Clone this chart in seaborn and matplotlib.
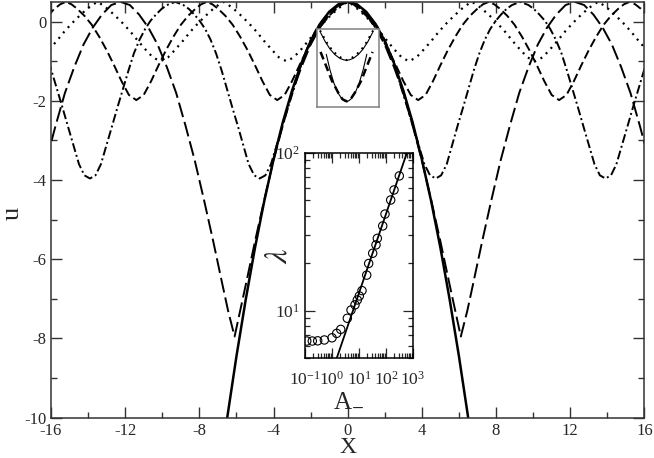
import matplotlib
matplotlib.use("Agg")
import matplotlib.pyplot as plt
from matplotlib.ticker import MultipleLocator, NullFormatter, FixedLocator
import seaborn as sns

# ---- main panel: profiles u(X) ----
x_par = [-6.6, -6.0, -5.5, -5.0, -4.5, -4.0, -3.5, -3.0, -2.5, -2.0, -1.5, -1.0, -0.5, 0.0,
         0.5, 1.0, 1.5, 2.0, 2.5, 3.0, 3.5, 4.0, 4.5, 5.0, 5.5, 6.0, 6.6]
u_par = [-10.32, -8.45, -7.02, -5.71, -4.53, -3.48, -2.54, -1.74, -1.05, -0.49, -0.06, 0.25, 0.44, 0.5,
         0.44, 0.25, -0.06, -0.49, -1.05, -1.74, -2.54, -3.48, -4.53, -5.71, -7.02, -8.45, -10.32]

# dotted, wells down to -1
x_dot = [-16.09, -15.68, -15.28, -14.87, -14.46, -14.06, -13.75, -13.5, -13.25, -12.94, -12.54,
         -12.13, -11.72, -11.32, -10.91, -10.51, -10.1, -9.69, -9.29, -8.88, -8.48, -8.07, -7.66,
         -7.26, -6.95, -6.7, -6.45, -6.14, -5.74, -5.33, -4.92, -4.52, -4.11, -3.71, -3.3, -2.91,
         -2.51, -2.12, -1.72, -1.33, -0.94, -0.54, -0.25, 0.0, 0.25, 0.54, 0.94, 1.33, 1.72, 2.12,
         2.51, 2.91, 3.3, 3.71, 4.11, 4.52, 4.92, 5.33, 5.74, 6.14, 6.45, 6.7, 6.95, 7.26, 7.66,
         8.07, 8.48, 8.88, 9.29, 9.69, 10.1, 10.51, 10.91, 11.32, 11.72, 12.13, 12.54, 12.94,
         13.25, 13.5, 13.75, 14.06, 14.46, 14.87, 15.28, 15.68, 16.09]
u_dot = [-0.7, -0.48, -0.25, -0.04, 0.15, 0.32, 0.43, 0.5, 0.43, 0.32, 0.15,
         -0.04, -0.25, -0.48, -0.7, -0.9, -1.0, -0.9, -0.7, -0.48, -0.25, -0.04, 0.15,
         0.32, 0.43, 0.5, 0.43, 0.32, 0.15, -0.04, -0.25, -0.48, -0.7, -0.9, -1.0, -0.9,
         -0.7, -0.48, -0.25, -0.04, 0.15, 0.32, 0.43, 0.5, 0.43, 0.32, 0.15, -0.04, -0.25, -0.48,
         -0.7, -0.9, -1.0, -0.9, -0.7, -0.48, -0.25, -0.04, 0.15, 0.32, 0.43, 0.5, 0.43, 0.32, 0.15,
         -0.04, -0.25, -0.48, -0.7, -0.9, -1.0, -0.9, -0.7, -0.48, -0.25, -0.04, 0.15, 0.32,
         0.43, 0.5, 0.43, 0.32, 0.15, -0.04, -0.25, -0.48, -0.7]

# short dashes, wells down to -2
x_dsh = [-16.2, -15.8, -15.5, -15.2, -14.9, -14.6, -14.2, -13.8, -13.4, -13.0, -12.6, -12.2, -11.8,
         -11.4, -11.0, -10.6, -10.2, -9.8, -9.4, -9.0, -8.6, -8.2, -7.9, -7.6, -7.3, -7.0, -6.6,
         -6.2, -5.8, -5.4, -5.0, -4.6, -4.2, -3.8, -3.4, -3.0, -2.6, -2.2, -1.8, -1.4, -1.0, -0.6,
         -0.3, 0.0, 0.3, 0.6, 1.0, 1.4, 1.8, 2.2, 2.6, 3.0, 3.4, 3.8, 4.2, 4.6, 5.0, 5.4, 5.8, 6.2,
         6.6, 7.0, 7.3, 7.6, 7.9, 8.2, 8.6, 9.0, 9.4, 9.8, 10.2, 10.6, 11.0, 11.4, 11.8, 12.2, 12.6,
         13.0, 13.4, 13.8, 14.2, 14.6, 14.9, 15.2, 15.5, 15.8, 16.2]
u_dsh = [0.15, 0.33, 0.44, 0.5, 0.44, 0.33, 0.15, -0.08, -0.38, -0.72, -1.1, -1.5, -1.85,
         -1.98, -1.85, -1.5, -1.1, -0.72, -0.38, -0.08, 0.15, 0.33, 0.44, 0.5, 0.44, 0.33, 0.15,
         -0.08, -0.38, -0.72, -1.1, -1.5, -1.85, -1.98, -1.85, -1.5, -1.1, -0.72, -0.38, -0.08, 0.15, 0.33,
         0.44, 0.5, 0.44, 0.33, 0.15, -0.08, -0.38, -0.72, -1.1, -1.5, -1.85, -1.98, -1.85, -1.5, -1.1, -0.72, -0.38, -0.08,
         0.15, 0.33, 0.44, 0.5, 0.44, 0.33, 0.15, -0.08, -0.38, -0.72, -1.1, -1.5, -1.85, -1.98, -1.85, -1.5, -1.1,
         -0.72, -0.38, -0.08, 0.15, 0.33, 0.44, 0.5, 0.44, 0.33, 0.15]

# dash-dot, wells down to -4
x_dd = [-16.13, -15.98, -15.68, -15.38, -15.09, -14.79, -14.49, -14.2, -13.9, -13.6, -13.31, -13.01,
        -12.71, -12.42, -12.12, -11.82, -11.53, -11.23, -10.93, -10.64, -10.34, -10.04, -9.75, -9.3,
        -8.86, -8.56, -8.27, -7.98, -7.68, -7.39, -7.10, -6.80, -6.51, -6.22, -5.92, -5.63, -5.34,
        -5.04, -4.75, -4.44, -4.14, -3.83, -3.52, -3.22, -2.91, -2.61, -2.30, -1.99, -1.69, -1.38,
        -1.07, -0.77, -0.46, 0.0, 0.46, 0.77, 1.07, 1.38, 1.69, 1.99, 2.30, 2.61, 2.91, 3.22, 3.52,
        3.83, 4.14, 4.44, 4.75, 5.04, 5.34, 5.63, 5.92, 6.22, 6.51, 6.80, 7.10, 7.39, 7.68, 7.98,
        8.27, 8.56, 8.86, 9.3, 9.75, 10.04, 10.34, 10.64, 10.93, 11.23, 11.53, 11.82, 12.12, 12.42,
        12.71, 13.01, 13.31, 13.6, 13.9, 14.2, 14.49, 14.79, 15.09, 15.38, 15.68, 15.98, 16.13]
u_dd = [-1.0, -1.23, -1.7, -2.17, -2.64, -3.12, -3.6, -3.88, -3.96, -3.88, -3.6, -3.12,
        -2.64, -2.17, -1.7, -1.23, -0.8, -0.46, -0.19, 0.02, 0.18, 0.32, 0.42, 0.5,
        0.42, 0.32, 0.18, 0.02, -0.19, -0.46, -0.8, -1.23, -1.7, -2.17, -2.64, -3.12, -3.6,
        -3.88, -3.96, -3.88, -3.6, -3.12, -2.64, -2.17, -1.7, -1.23, -0.8, -0.46, -0.19, 0.02,
        0.18, 0.32, 0.42, 0.5, 0.42, 0.32, 0.18, 0.02, -0.19, -0.46, -0.8, -1.23, -1.7, -2.17, -2.64,
        -3.12, -3.6, -3.88, -3.96, -3.88, -3.6, -3.12, -2.64, -2.17, -1.7, -1.23, -0.8, -0.46, -0.19, 0.02,
        0.18, 0.32, 0.42, 0.5, 0.42, 0.32, 0.18, 0.02, -0.19, -0.46, -0.8, -1.23, -1.7, -2.17,
        -2.64, -3.12, -3.6, -3.88, -3.96, -3.88, -3.6, -3.12, -2.64, -2.17, -1.7, -1.23, -1.0]

# long dashes, wells down to -8
x_ld = [-16.25, -15.75, -15.25, -14.75, -14.25, -13.75, -13.25, -12.75, -12.25, -11.75, -11.25,
        -10.75, -10.25, -9.75, -9.25, -8.75, -8.25, -7.75, -7.25, -6.75, -6.45, -6.1, -5.8, -5.5,
        -5.0, -4.5, -4.0, -3.5, -3.0, -2.5, -2.0, -1.5, -1.0, -0.5, 0.0, 0.5, 1.0, 1.5, 2.0, 2.5,
        3.0, 3.5, 4.0, 4.5, 5.0, 5.5, 5.8, 6.1, 6.45, 6.75, 7.25, 7.75, 8.25, 8.75, 9.25, 9.75,
        10.25, 10.75, 11.25, 11.75, 12.25, 12.75, 13.25, 13.75, 14.25, 14.75, 15.25, 15.75, 16.25]
u_ld = [-3.5, -2.62, -1.8, -1.15, -0.58, -0.15, 0.18, 0.42, 0.5, 0.42, 0.18,
        -0.15, -0.58, -1.15, -1.8, -2.62, -3.5, -4.5, -5.55, -6.65, -7.3, -7.95, -7.3, -6.65,
        -5.55, -4.5, -3.5, -2.62, -1.8, -1.15, -0.58, -0.15, 0.18, 0.42, 0.5, 0.42, 0.18, -0.15, -0.58, -1.15,
        -1.8, -2.62, -3.5, -4.5, -5.55, -6.65, -7.3, -7.95, -7.3, -6.65, -5.55, -4.5, -3.5, -2.62, -1.8, -1.15,
        -0.58, -0.15, 0.18, 0.42, 0.5, 0.42, 0.18, -0.15, -0.58, -1.15, -1.8, -2.62, -3.5]

# ---- small boxed sketch (well bottoms vs. parabolas), box-local units ----
xb_par1 = [-28.4, -23.7, -18.7, -13.7, -8.7, -4.7, -1.7, 1.3, 5.3, 10.3, 15.3, 20.3, 25.0]
yb_par1 = [-3.6, -12.5, -20.1, -25.7, -29.4, -30.95, -31.3, -30.95, -29.4, -25.7, -20.1, -12.5, -3.6]
xb_dot = [-29.0, -25.5, -21.5, -17.0, -12.0, -6.7, -1.7, 3.3, 8.6, 13.6, 18.1, 22.1, 25.6]
yb_dot = [-1.5, -7.5, -14.5, -20.5, -25.6, -29.3, -31.3, -29.3, -25.6, -20.5, -14.5, -7.5, -1.5]
xb_par2 = [-22.5, -18.7, -14.7, -10.7, -6.7, -3.7, -1.7, 0.3, 3.3, 7.3, 11.3, 15.3, 19.1]
yb_par2 = [-25.4, -41.1, -54.2, -63.8, -69.9, -72.2, -72.6, -72.2, -69.9, -63.8, -54.2, -41.1, -25.4]
xb_dsh = [-28.4, -21.7, -16.7, -10.0, -5.7, -1.7, 2.3, 6.6, 13.3, 18.3, 25.0]
yb_dsh = [-23.0, -39.5, -52.0, -64.3, -70.6, -72.6, -70.6, -64.3, -52.0, -39.5, -23.0]

# ---- log-log inset: lambda vs A_- ----
A_pts = [0.116, 0.186, 0.295, 0.52, 1.0, 1.49, 2.1, 3.69, 5.05, 7.1, 8.65, 10.3, 12.9,
         19.3, 22.8, 32.1, 42.6, 47.7, 75.5, 91.8, 149, 198, 311]
lam_pts = [6.43, 6.43, 6.45, 6.53, 6.74, 7.19, 7.62, 8.96, 10.1, 10.9, 11.7, 12.4, 13.4,
           16.8, 19.9, 23.1, 26.1, 28.7, 34.4, 40.9, 50.2, 58.1, 71.3]
A_fit = [1.2, 1000]
lam_fit = [4.49, 129.5]

sns.set_theme(style="ticks")
plt.rcParams["font.family"] = ["Liberation Serif", "DejaVu Serif"]
plt.rcParams["mathtext.fontset"] = "stix"
plt.rcParams["axes.unicode_minus"] = False

fig = plt.figure(figsize=(6.54, 4.58), dpi=100)
ax = fig.add_axes([0.078, 0.088, 0.9073, 0.9079])

lw = 1.4
sns.lineplot(x=x_dot, y=u_dot, ax=ax, color="black", lw=1.6, sort=False, estimator=None,
             linestyle=(0, (0.9, 2.3)))
sns.lineplot(x=x_dsh, y=u_dsh, ax=ax, color="black", lw=lw, sort=False, estimator=None,
             linestyle=(0, (4.6, 2.1)))
sns.lineplot(x=x_dd, y=u_dd, ax=ax, color="black", lw=lw, sort=False, estimator=None,
             linestyle=(0, (4.6, 1.6, 1.0, 1.6)))
sns.lineplot(x=x_ld, y=u_ld, ax=ax, color="black", lw=lw, sort=False, estimator=None,
             linestyle=(0, (7.7, 2.6)))
sns.lineplot(x=x_par, y=u_par, ax=ax, color="black", lw=1.8, sort=False, estimator=None)

ax.set_xlim(-16, 16)
ax.set_ylim(-10, 0.5)
ax.xaxis.set_major_locator(MultipleLocator(4))
ax.xaxis.set_minor_locator(MultipleLocator(2))
ax.yaxis.set_major_locator(MultipleLocator(2))
ax.yaxis.set_minor_locator(MultipleLocator(1))
ax.tick_params(which="both", direction="in", top=True, right=True, labelsize=12, width=1,
               color="#333333")
ax.tick_params(which="major", length=8)
ax.tick_params(which="minor", length=4)
for s in ax.spines.values():
    s.set_linewidth(1.1)
    s.set_color("#333333")
ax.set_xlabel("X", fontsize=17)
ax.xaxis.set_label_coords(0.5, -0.047)
ax.set_ylabel("")
fig.text(13 / 654, 1 - 213 / 458, "u", rotation=90, ha="center", va="center", fontsize=19)

# boxed sketch near the top
axb = fig.add_axes([0.4852, 0.7657, 0.0943, 0.171])
sns.lineplot(x=xb_par1, y=yb_par1, ax=axb, color="black", lw=0.8, sort=False, estimator=None)
sns.lineplot(x=xb_dot, y=yb_dot, ax=axb, color="black", lw=1.5, sort=False, estimator=None,
             linestyle=(0, (0.9, 2.3)))
sns.lineplot(x=xb_par2, y=yb_par2, ax=axb, color="black", lw=0.8, sort=False, estimator=None)
sns.lineplot(x=xb_dsh, y=yb_dsh, ax=axb, color="black", lw=1.8, sort=False, estimator=None,
             linestyle=(0, (3.2, 1.8)))
axb.set_xlim(-31.7, 31.6)
axb.set_ylim(-78.6, 0)
axb.set_xticks([])
axb.set_yticks([])
axb.set_xlabel("")
axb.set_ylabel("")
for s in axb.spines.values():
    s.set_linewidth(1.1)
    s.set_color("#808080")

# log-log inset
axi = fig.add_axes([0.4664, 0.2177, 0.1651, 0.4489])
axi.set_xscale("log")
axi.set_yscale("log")
sns.lineplot(x=A_fit, y=lam_fit, ax=axi, color="black", lw=1.3, sort=False, estimator=None)
sns.scatterplot(x=A_pts, y=lam_pts, ax=axi, marker="o", s=36, facecolor="none",
                edgecolor="black", linewidth=0.8)
axi.set_xlim(0.1, 1000)
axi.set_ylim(5, 100)
axi.xaxis.set_major_locator(FixedLocator([0.1, 1, 10, 100, 1000]))
axi.yaxis.set_major_locator(FixedLocator([10, 100]))
axi.xaxis.set_minor_formatter(NullFormatter())
axi.yaxis.set_minor_formatter(NullFormatter())
axi.tick_params(which="both", direction="in", top=True, right=True, labelsize=12.5, width=0.9)
axi.tick_params(which="major", length=7)
axi.tick_params(which="minor", length=3.5)
axi.tick_params(axis="x", which="major", pad=9)
for s in axi.spines.values():
    s.set_linewidth(1.1)
    s.set_color("black")
axi.set_xlabel(r"A$_{-}$", fontsize=18)
axi.set_ylabel(r"$\lambda$", fontsize=23)
axi.xaxis.set_label_coords(0.4, -0.15)
axi.yaxis.set_label_coords(-0.11, 0.5)

fig.savefig("out.png", dpi=100)
